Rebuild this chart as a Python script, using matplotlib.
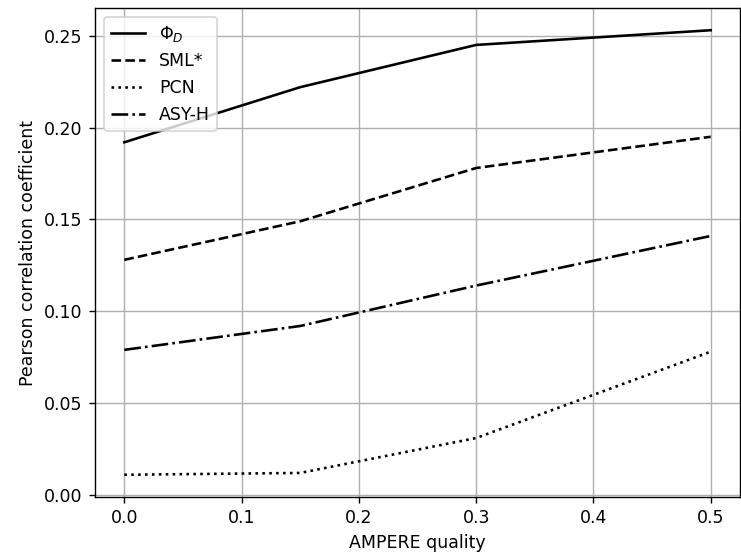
import matplotlib
matplotlib.use("Agg")
import matplotlib.pyplot as plt

quality = [0.0, 0.15, 0.3, 0.5]
phi_d = [0.192, 0.222, 0.245, 0.253]
sml = [0.128, 0.149, 0.178, 0.195]
pcn = [0.011, 0.012, 0.031, 0.078]
asy_h = [0.079, 0.092, 0.114, 0.141]

DPI = 125
fig = plt.figure(figsize=(741 / DPI, 557 / DPI), dpi=DPI)
ax = fig.add_axes([95/741, 1 - 497/557, (740 - 95)/741, (497 - 8)/557])
ax.plot(quality, phi_d, color="black", linestyle="-", label=r"$\Phi_D$")
ax.plot(quality, sml, color="black", linestyle="--", label="SML*")
ax.plot(quality, pcn, color="black", linestyle=":", label="PCN")
ax.plot(quality, asy_h, color="black", linestyle="-.", label="ASY-H")
ax.set_xlabel("AMPERE quality")
ax.set_ylabel("Pearson correlation coefficient")
ax.grid(True)
ax.legend(loc="upper left")
fig.savefig("out.png", dpi=DPI)
